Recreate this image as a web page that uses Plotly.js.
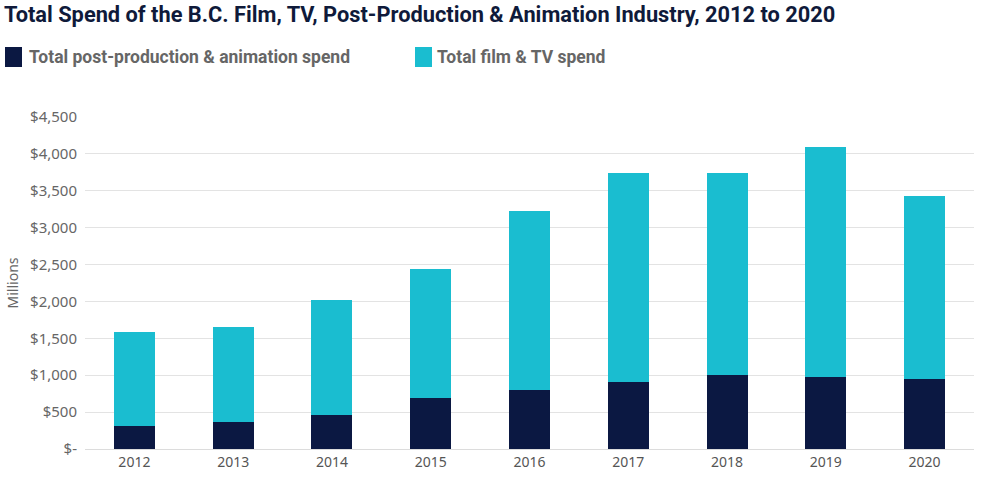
<!DOCTYPE html>
<html>
<head>
<meta charset="utf-8">
<script src="https://cdn.plot.ly/plotly-3.0.1.min.js"></script>
<style>html,body{margin:0;padding:0;background:#fff;}#chart{width:1000px;height:490px;}</style>
</head>
<body>
<div id="chart"></div>
<script>
const years = ['2012','2013','2014','2015','2016','2017','2018','2019','2020'];
const postAnimSpend = [316, 366, 465, 687, 795, 904, 1007, 976, 949];
const totalSpend = [1585, 1652, 2020, 2440, 3226, 3743, 3743, 4095, 3425];
const filmTvSpend = totalSpend.map((t, i) => t - postAnimSpend[i]);
const tickValues = [0, 500, 1000, 1500, 2000, 2500, 3000, 3500, 4000, 4500];
const tickLabels = ['$-', '$500', '$1,000', '$1,500', '$2,000', '$2,500', '$3,000', '$3,500', '$4,000', '$4,500'];
const seriesNames = ['Total post-production & animation spend', 'Total film & TV spend'];
const seriesColors = ['#0b1842', '#1abdd0'];

const headFont = 'Roboto, "Noto Sans", sans-serif';
const bodyFont = '"Noto Sans", sans-serif';

const W = 1000, H = 490;
const M = {l: 85, r: 26, t: 117, b: 41};
const plotW = W - M.l - M.r, plotH = H - M.t - M.b;
const px2x = p => (p - M.l) / plotW;
const px2y = p => (H - M.b - p) / plotH;

const traces = seriesNames.map((name, i) => ({
  type: 'bar', name: name, x: years, y: i === 0 ? postAnimSpend : filmTvSpend,
  marker: {color: seriesColors[i]}, hoverinfo: 'x+y+name'
}));

// manual legend (swatch + label), positioned in pixels
const legendItems = [{sx: 5, tx: 27}, {sx: 415, tx: 435}];
const legendShapes = legendItems.map((it, i) => ({
  type: 'rect', xref: 'paper', yref: 'paper',
  x0: px2x(it.sx), x1: px2x(it.sx + 17), y0: px2y(67), y1: px2y(47),
  fillcolor: seriesColors[i], line: {width: 0}
}));
const legendLabels = legendItems.map((it, i) => ({
  xref: 'paper', yref: 'paper', x: px2x(it.tx), y: px2y(57),
  xanchor: 'left', yanchor: 'middle', showarrow: false,
  text: '<b>' + seriesNames[i].replace('&', '&amp;') + '</b>',
  font: {family: headFont, size: 17.5, color: '#666'}
}));

const layout = {
  width: W, height: H,
  paper_bgcolor: '#fff', plot_bgcolor: '#fff',
  margin: M,
  barmode: 'stack',
  bargap: 0.585,
  showlegend: false,
  title: {
    text: '<b>Total Spend of the B.C. Film, TV, Post-Production &amp; Animation Industry, 2012 to 2020</b>',
    font: {family: headFont, size: 21.8, color: '#0f1a3a'},
    x: 0.004, xanchor: 'left', xref: 'container',
    y: 1 - 14/490, yanchor: 'middle', yref: 'container'
  },
  shapes: legendShapes,
  annotations: legendLabels,
  xaxis: {
    type: 'category',
    tickfont: {family: bodyFont, size: 14, color: '#555'},
    showline: true, linecolor: '#dcdcdc', linewidth: 1,
    ticks: '', showgrid: false, fixedrange: true
  },
  yaxis: {
    range: [0, 4500],
    tickvals: tickValues, ticktext: tickLabels,
    tickfont: {family: bodyFont, size: 15, color: '#666'},
    gridcolor: '#e3e3e3', gridwidth: 1,
    zeroline: false, ticks: '', ticklen: 0,
    ticklabelstandoff: 7,
    title: {text: 'Millions', font: {family: bodyFont, size: 14, color: '#666'}, standoff: 8},
    fixedrange: true
  }
};

Plotly.newPlot('chart', traces, layout, {displayModeBar: false, staticPlot: true});
</script>
</body>
</html>
